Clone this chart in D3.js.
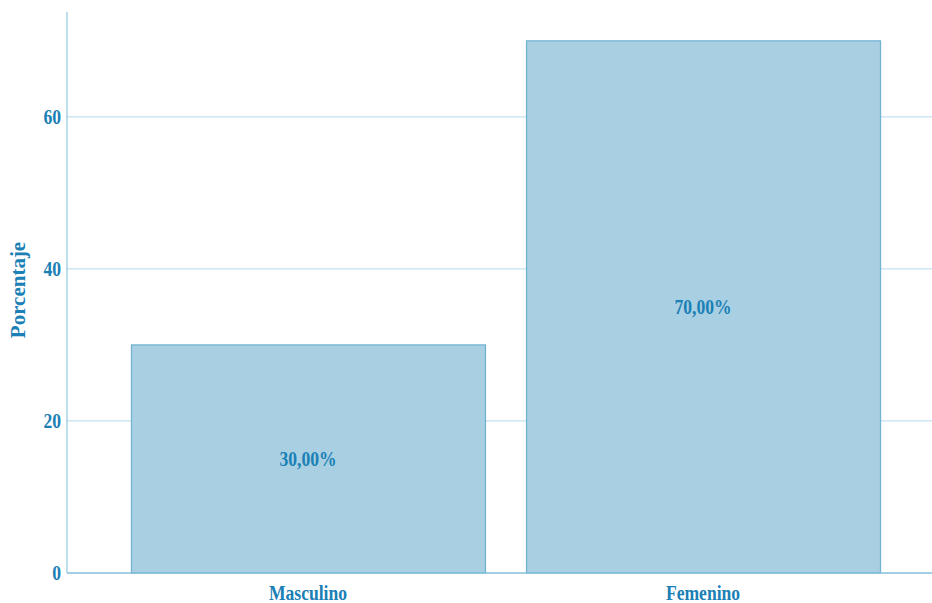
<!DOCTYPE html>
<html><head><meta charset="utf-8">
<script src="https://cdn.jsdelivr.net/npm/d3@7"></script>
<style>html,body{margin:0;padding:0;background:#fff;}svg{display:block;}
.t{font-family:"Liberation Serif","DejaVu Serif",serif;font-weight:bold;font-size:20px;}</style>
</head><body>
<svg id="c" width="932" height="603"></svg>
<script>
const categories = ["Masculino", "Femenino"];
const values = [30, 70];
const labels = ["30,00%", "70,00%"];
const yTicks = [0, 20, 40, 60];
const yTitle = "Porcentaje";

(function () {
const W = 932, H = 603;
const mLeft = 67, mBottom = 573, mTop = 12;
const textColor = "#1a80b5";
const sx = 0.88;

const svg = d3.select("#c");
const y = d3.scaleLinear().domain([0, 73.8]).range([mBottom, mTop]);
const x = d3.scaleBand().domain(categories).range([mLeft, 944]).paddingInner(0.104).paddingOuter(0.162);

svg.append("g").selectAll("line").data(yTicks.filter(d => d > 0)).join("line")
  .attr("x1", mLeft).attr("x2", W).attr("y1", d => y(d)).attr("y2", d => y(d))
  .attr("stroke", "#c4e1ed").attr("stroke-width", 1.3);

svg.append("g").selectAll("rect").data(values).join("rect")
  .attr("x", (d, i) => x(categories[i]) + 0.5)
  .attr("y", d => y(d))
  .attr("width", x.bandwidth())
  .attr("height", d => mBottom - y(d))
  .attr("fill", "#a8d0e2").attr("stroke", "#73b3d2").attr("stroke-width", 1.3);

svg.append("line").attr("x1", mLeft).attr("x2", mLeft).attr("y1", mTop).attr("y2", mBottom)
  .attr("stroke", "#9ccbe0").attr("stroke-width", 1.3);
svg.append("line").attr("x1", mLeft).attr("x2", W).attr("y1", mBottom).attr("y2", mBottom)
  .attr("stroke", "#84bfdb").attr("stroke-width", 1.5);

svg.append("g").selectAll("text").data(yTicks).join("text").attr("class", "t")
  .attr("transform", d => `translate(61,${y(d) + 7}) scale(${sx},1)`)
  .attr("text-anchor", "end").attr("fill", textColor).text(d => d);

svg.append("g").selectAll("text").data(categories).join("text").attr("class", "t")
  .attr("transform", d => `translate(${x(d) + x.bandwidth() / 2},600) scale(${sx},1)`)
  .attr("text-anchor", "middle").attr("fill", textColor).text(d => d);

svg.append("g").selectAll("text").data(values).join("text").attr("class", "t")
  .attr("transform", (d, i) => `translate(${x(categories[i]) + x.bandwidth() / 2},${y(d / 2) + 7}) scale(${sx},1)`)
  .attr("text-anchor", "middle").attr("fill", textColor).text((d, i) => labels[i]);

svg.append("text").attr("class", "t")
  .attr("transform", `translate(25,290) rotate(-90) scale(1.05,1)`)
  .attr("text-anchor", "middle").attr("fill", textColor).text(yTitle);
})();
</script>
</body></html>
